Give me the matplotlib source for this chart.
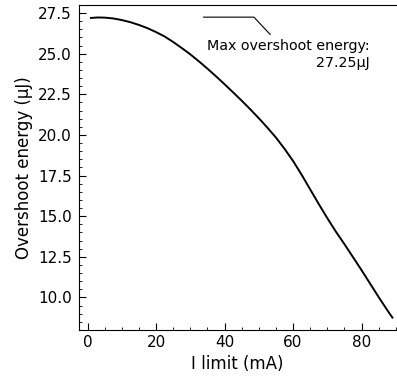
import matplotlib
matplotlib.use("Agg")
import matplotlib.pyplot as plt
from matplotlib.ticker import MultipleLocator, FormatStrFormatter

# Overshoot energy versus current limit
i_limit = [1, 3, 5, 7.5, 10, 12.5, 15, 17.5, 20, 22.5, 25, 27.5, 30, 32.5, 35,
           37.5, 40, 42.5, 45, 47.5, 50, 52.5, 55, 57.5, 60, 62.5, 65, 67.5, 70,
           72.5, 75, 77.5, 80, 82.5, 85, 87.5, 89]
energy = [27.20, 27.23, 27.22, 27.17, 27.07, 26.94, 26.77, 26.57, 26.33, 26.06,
          25.72, 25.35, 24.96, 24.53, 24.08, 23.61, 23.12, 22.62, 22.11, 21.58,
          21.03, 20.45, 19.84, 19.15, 18.40, 17.55, 16.65, 15.75, 14.88, 14.05,
          13.28, 12.48, 11.68, 10.85, 10.02, 9.22, 8.76]
max_energy = 27.25

fig = plt.figure(figsize=(3.97, 3.81), dpi=100)
ax = fig.add_axes([0.199, 0.134, 0.798, 0.853])

ax.plot(i_limit, energy, color="black", lw=1.4)

ax.set_xlim(-2.5, 90)
ax.set_ylim(8, 28)
ax.xaxis.set_major_locator(MultipleLocator(20))
ax.xaxis.set_minor_locator(MultipleLocator(5))
ax.yaxis.set_major_locator(MultipleLocator(2.5))
ax.yaxis.set_minor_locator(MultipleLocator(0.5))
ax.yaxis.set_major_formatter(FormatStrFormatter("%.1f"))
ax.tick_params(which="both", direction="in", top=False, right=False, labelsize=11)
ax.tick_params(which="major", length=5)
ax.tick_params(which="minor", length=2.5)
ax.tick_params(axis="y", pad=5)
ax.spines["right"].set_visible(False)

ax.set_xlabel("I limit (mA)", fontsize=12)
ax.set_ylabel("Overshoot energy (\u03bcJ)", fontsize=12)

ax.annotate("Max overshoot energy:\n%.2f\u03bcJ" % max_energy,
            xy=(33, max_energy), xycoords="data",
            xytext=(82.5, 24.95), textcoords="data",
            ha="right", va="center", multialignment="right", fontsize=10.3,
            arrowprops=dict(arrowstyle="-", color="black", lw=0.8,
                            connectionstyle="angle,angleA=133,angleB=0,rad=0"))

fig.savefig("out.png", dpi=100)
